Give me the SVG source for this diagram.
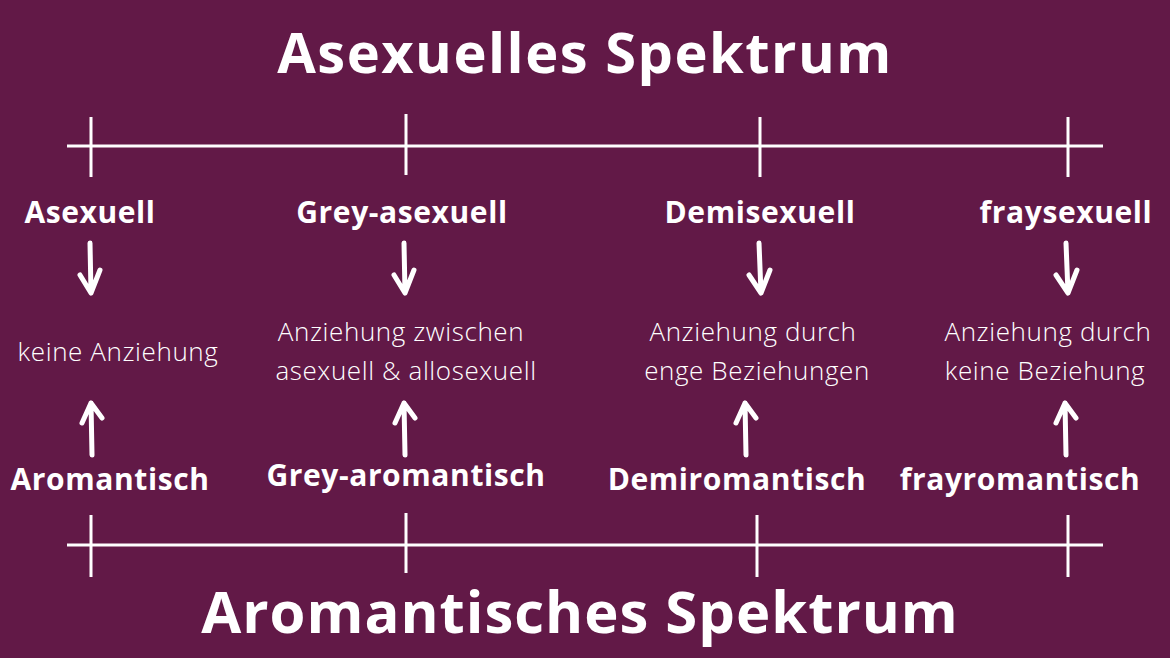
<svg xmlns="http://www.w3.org/2000/svg" width="1170" height="658" viewBox="0 0 1170 658">
<style>
.t{font-family:"Open Sans","Liberation Sans",sans-serif;font-weight:bold;fill:#fff;text-anchor:middle}
.l{font-family:"Open Sans","Liberation Sans",sans-serif;font-weight:bold;fill:#fff;text-anchor:middle;font-size:30px;letter-spacing:0.6px}
.d{font-family:"Open Sans","Liberation Sans",sans-serif;font-weight:300;fill:#fff;text-anchor:middle;font-size:26px;letter-spacing:0.6px}
.ln{stroke:#fff;stroke-width:3;fill:none}
.ar{stroke:#fff;stroke-width:5;fill:none;stroke-linecap:round;stroke-linejoin:round}
</style>
<rect width="1170" height="658" fill="#621947"/>
<g id="title-top"><text class="t" x="585" y="73" font-size="56" letter-spacing="1.5">Asexuelles Spektrum</text></g>
<g id="title-bottom"><text class="t" x="580" y="633" font-size="58" letter-spacing="1">Aromantisches Spektrum</text></g>
<g id="axis-top" class="ln"><path d="M67 146H1103M91 117V177M406 114V175M760 117V177M1068 117V177"/></g>
<g id="axis-bottom" class="ln"><path d="M67 545H1103M91 515V577M406 513V573M757 515V577M1068 515V577"/></g>
<g id="n1"><text class="l" x="90" y="223">Asexuell</text><text class="d" x="118" y="361">keine Anziehung</text><text class="l" x="110" y="490">Aromantisch</text></g>
<g id="n2"><text class="l" x="402" y="223">Grey-asexuell</text><text class="d" x="401" y="341">Anziehung zwischen</text><text class="d" x="406" y="380">asexuell &amp; allosexuell</text><text class="l" x="406" y="486">Grey-aromantisch</text></g>
<g id="n3"><text class="l" x="760" y="223">Demisexuell</text><text class="d" x="753" y="341">Anziehung durch</text><text class="d" x="757" y="380">enge Beziehungen</text><text class="l" x="737" y="490">Demiromantisch</text></g>
<g id="n4"><text class="l" x="1066" y="223">fraysexuell</text><text class="d" x="1048" y="341">Anziehung durch</text><text class="d" x="1045" y="380">keine Beziehung</text><text class="l" x="1020" y="490">frayromantisch</text></g>
<g id="connectors" class="ar">
<path d="M90 243L91 293M80 275L91 293L100 270"/>
<path d="M404 243L405 293M394 275L405 293L414 270"/>
<path d="M759 243L761 293M749 275L761 293L770 270"/>
<path d="M1066 243L1068 293M1056 275L1068 293L1077 270"/>
<path d="M92 455L91 403M82 423L91 403L102 418"/>
<path d="M405 455L404 403M395 423L404 403L415 418"/>
<path d="M746 455L745 403M736 423L745 403L756 418"/>
<path d="M1066 455L1065 403M1056 423L1065 403L1076 418"/>
</g>
</svg>
